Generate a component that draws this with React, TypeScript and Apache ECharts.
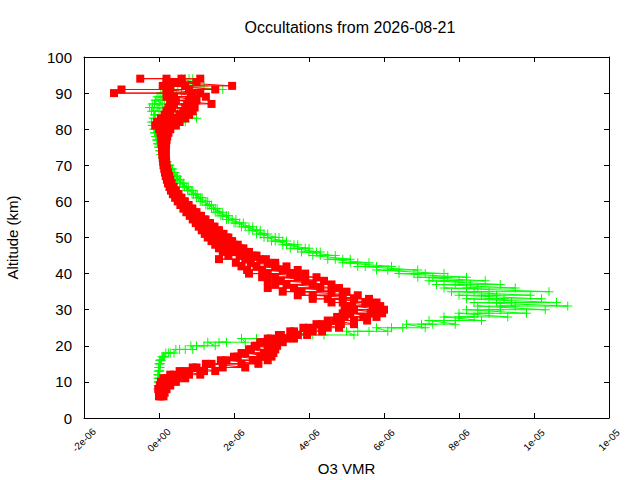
import React, { useEffect, useRef } from "react";
import * as echarts from "echarts";

// Altitude levels (km)
const altitudes = [
  6, 7, 8, 9, 10, 11, 12, 13, 14, 15,
  16, 17, 18, 19, 20, 21, 22, 23, 24, 25,
  26, 27, 28, 29, 30, 31, 32, 33, 34, 35,
  36, 37, 38, 39, 40, 41, 42, 43, 44, 45,
  46, 47, 48, 49, 50, 51, 52, 53, 54, 55,
  56, 57, 58, 59, 60, 61, 62, 63, 64, 65,
  66, 67, 68, 69, 70, 71, 72, 73, 74, 75,
  76, 77, 78, 79, 80, 81, 82, 83, 84, 85,
  86, 87, 88, 89, 90, 91, 92, 93, 94,
];

// Green series (O3 VMR, units of 1e-6), four occultations
const greenP1 = [
  null, null, 0.0, -0.02, 0.0, 0.01, -0.02, 0.0, 0.01, 0.02,
  0.03, 0.08, 0.18, 0.45, 0.85, 1.3, 2.2, 3.8, 5.0, 5.8,
  6.6, 7.2, 7.6, 8.0, 8.2, 8.5, 8.4, 8.2, 8.0, 7.8,
  7.6, 7.4, 7.2, 6.9, 6.4, 5.8, 5.3, 4.9, 4.5, 4.1,
  3.8, 3.5, 3.3, 3.0, 2.8, 2.6, 2.4, 2.2, 2.0, 1.8,
  1.65, 1.5, 1.4, 1.25, 1.1, 1.0, 0.88, 0.76, 0.64, 0.55,
  0.47, 0.4, 0.33, 0.27, 0.2, 0.14, 0.09, 0.05, 0.02, 0.0,
  -0.03, -0.05, -0.08, -0.1, -0.12, -0.14, -0.15, -0.12, -0.1, -0.14,
  -0.18, -0.12, -0.08, 0.0, 0.1, 0.3, 0.5, 0.6, 0.7,
];
const greenP2 = [
  null, null, -0.03, 0.01, -0.02, -0.03, 0.0, 0.02, -0.01, 0.0,
  0.05, 0.12, 0.3, 0.7, 1.2, 1.8, 2.9, 4.4, 5.6, 6.5,
  7.3, 7.9, 8.4, 8.8, 9.1, 9.5, 9.4, 9.2, 9.0, 8.8,
  8.5, 8.3, 8.0, 7.7, 7.1, 6.4, 5.8, 5.3, 4.9, 4.5,
  4.2, 3.9, 3.6, 3.3, 3.1, 2.8, 2.6, 2.4, 2.15, 1.95,
  1.8, 1.6, 1.5, 1.35, 1.25, 1.1, 0.98, 0.86, 0.74, 0.64,
  0.55, 0.47, 0.4, 0.34, 0.27, 0.2, 0.14, 0.09, 0.05, 0.02,
  0.0, -0.02, -0.04, -0.06, -0.08, -0.05, 0.05, 0.2, 0.1, 0.0,
  -0.05, 0.0, 0.05, 0.15, 0.35, 0.6, 0.8, 0.9, 0.8,
];
const greenP3 = [
  null, null, null, 0.0, 0.02, 0.0, 0.01, -0.02, 0.03, 0.04,
  0.02, 0.1, 0.25, 0.55, 1.0, 1.6, 2.6, 4.1, 5.3, 6.2,
  7.0, 7.6, 8.0, 8.5, 8.8, 9.1, 9.0, 8.8, 8.6, 8.4,
  8.2, 7.9, 7.6, 7.3, 6.8, 6.1, 5.5, 5.1, 4.7, 4.3,
  4.0, 3.7, 3.4, 3.1, 2.9, 2.7, 2.5, 2.3, 2.05, 1.85,
  1.7, 1.55, 1.45, 1.3, 1.15, 1.05, 0.92, 0.8, 0.68, 0.58,
  0.5, 0.43, 0.36, 0.3, 0.23, 0.17, 0.11, 0.06, 0.03, -0.01,
  -0.04, -0.06, -0.09, -0.12, -0.14, -0.18, -0.2, -0.15, -0.12, -0.2,
  -0.25, -0.18, -0.1, -0.05, 0.05, 0.2, 0.4, 0.5, 0.6,
];
const greenP4 = [
  null, null, null, null, -0.01, 0.02, -0.03, 0.01, 0.0, 0.01,
  0.06, 0.15, 0.4, 0.9, 1.5, 2.3, 3.6, 5.2, 6.1, 7.1,
  7.9, 8.6, 9.3, 9.8, 10.3, 10.9, 10.6, 10.2, 9.9, 10.4,
  9.5, 9.1, 8.7, 8.2, 7.6, 6.9, 6.2, 5.6, 5.1, 4.7,
  4.3, 4.0, 3.7, 3.4, 3.2, 2.9, 2.7, 2.5, 2.25, 2.05,
  1.85, 1.7, 1.55, 1.4, 1.3, 1.15, 1.02, 0.9, 0.78, 0.66,
  0.57, 0.49, 0.42, 0.36, 0.29, 0.22, 0.16, 0.1, 0.06, 0.03,
  0.01, -0.01, -0.03, -0.05, -0.06, 0.4, 0.7, 1.0, 0.9, 0.5,
  0.2, 0.1, 0.15, 0.3, 0.6, 1.7, 1.2, 0.85, 0.9,
];

// Red series (O3 VMR, units of 1e-6), four occultations
const redP1 = [
  0.05, 0.0, 0.02, 0.05, 0.1, 0.2, 0.4, 0.7, 1.0, 1.4,
  1.8, 2.1, 2.3, 2.45, 2.6, 2.8, 3.0, 3.25, 3.6, 4.0,
  4.35, 4.7, 4.95, 5.1, 5.2, 5.15, 4.9, 4.5, 4.1, 3.8,
  3.6, 3.4, 3.25, 3.1, 2.9, 2.75, 2.6, 2.45, 2.3, 2.15,
  2.0, 1.85, 1.75, 1.65, 1.55, 1.45, 1.35, 1.25, 1.15, 1.05,
  0.95, 0.85, 0.75, 0.66, 0.58, 0.5, 0.43, 0.37, 0.32, 0.28,
  0.24, 0.21, 0.19, 0.17, 0.15, 0.14, 0.13, 0.12, 0.12, 0.11,
  0.11, 0.1, 0.1, 0.08, 0.05, 0.02, 0.05, 0.15, 0.25, 0.3,
  0.35, 0.4, 0.45, 0.4, 0.3, 0.2, 0.3, 0.4, 0.2,
];
const redP2 = [
  0.12, 0.08, 0.1, 0.18, 0.3, 0.5, 0.8, 1.2, 1.7, 2.2,
  2.5, 2.7, 2.8, 2.9, 3.0, 3.15, 3.4, 3.7, 4.1, 4.5,
  4.85, 5.2, 5.45, 5.65, 5.75, 5.7, 5.5, 5.2, 4.9, 4.6,
  4.3, 4.1, 3.9, 3.7, 3.5, 3.3, 3.1, 2.9, 2.7, 2.5,
  2.3, 2.15, 2.0, 1.9, 1.8, 1.68, 1.56, 1.44, 1.32, 1.2,
  1.08, 0.97, 0.86, 0.76, 0.67, 0.58, 0.5, 0.43, 0.37, 0.32,
  0.28, 0.25, 0.22, 0.2, 0.18, 0.17, 0.16, 0.16, 0.16, 0.15,
  0.16, 0.16, 0.17, 0.18, 0.2, 0.25, 0.35, 0.45, 0.55, 0.65,
  0.7, 0.75, 0.8, 0.85, 0.9, 0.8, 0.7, 0.6, 0.6,
];
const redP3 = [
  0.0, 0.03, -0.02, 0.02, 0.05, 0.12, 0.3, 0.55, 0.9, 1.25,
  1.65, 2.0, 2.2, 2.4, 2.55, 2.7, 2.9, 3.2, 3.5, 3.85,
  4.2, 4.5, 4.75, 4.9, 5.0, 4.95, 4.6, 4.1, 3.7, 3.3,
  2.9, 3.1, 2.9, 2.75, 2.4, 2.35, 2.2, 2.05, 1.6, 1.85,
  1.7, 1.6, 1.5, 1.4, 1.3, 1.22, 1.14, 1.06, 0.98, 0.9,
  0.82, 0.73, 0.65, 0.57, 0.5, 0.43, 0.37, 0.32, 0.28, 0.24,
  0.21, 0.18, 0.16, 0.14, 0.12, 0.11, 0.1, 0.09, 0.08, 0.08,
  0.07, 0.07, 0.06, 0.04, 0.0, -0.1, -0.05, 0.05, 0.15, 0.2,
  0.25, 0.3, 0.3, 0.2, -1.2, -1.0, 0.1, 0.2, -0.5,
];
const redP4 = [
  null, 0.15, 0.2, 0.3, 0.45, 0.7, 1.1, 1.5, 2.3, 2.65,
  2.9, 3.0, 3.05, 3.1, 3.15, 3.3, 3.6, 3.95, 4.35, 4.8,
  5.2, 5.55, 5.8, 5.95, 6.0, 5.9, 5.8, 5.6, 5.3, 5.0,
  4.8, 4.6, 4.4, 4.2, 3.9, 3.7, 3.4, 3.1, 2.85, 2.6,
  2.4, 2.25, 2.1, 1.95, 1.85, 1.72, 1.6, 1.48, 1.36, 1.24,
  1.12, 1.0, 0.89, 0.79, 0.69, 0.6, 0.52, 0.45, 0.39, 0.34,
  0.3, 0.27, 0.24, 0.22, 0.2, 0.19, 0.18, 0.18, 0.18, 0.18,
  0.19, 0.2, 0.22, 0.25, 0.3, 0.45, 0.55, 0.7, 0.8, 0.9,
  0.95, 1.4, 1.0, 1.25, 1.1, 1.5, 1.95, 1.0, 1.1,
];

const xTickLabels = ["-2e-06", "0e+00", "2e-06", "4e-06", "6e-06", "8e-06", "1e-05", "1e-05"];
const X_MIN = -2;
const X_MAX = 12;
const X_STEP = 2;

const FONT = "'Liberation Sans', Arial, sans-serif";
const PLUS = "path://M4,0H5V4H9V5H5V9H4V5H0V4H4Z";

function buildPoints(profiles: (number | null)[][]): number[][] {
  const pts: number[][] = [];
  altitudes.forEach((alt, i) => {
    profiles.forEach((p) => {
      const v = p[i];
      if (v !== null && v !== undefined) pts.push([v, alt]);
    });
  });
  return pts;
}

export default function App() {
  const ref = useRef<HTMLDivElement>(null);

  useEffect(() => {
    if (!ref.current) return;
    const chart = echarts.init(ref.current, null, { renderer: "svg" });
    const tickCommon = { show: true, inside: true, length: 5, lineStyle: { color: "#000", width: 1 } };
    const lineCommon = { show: true, onZero: false, lineStyle: { color: "#000", width: 1 } };
    chart.setOption({
      animation: false,
      backgroundColor: "#fff",
      title: {
        text: "Occultations from 2026-08-21",
        left: 345,
        top: 14,
        textAlign: "center",
        textStyle: { fontSize: 16, fontWeight: "normal", color: "#000", fontFamily: FONT },
      },
      grid: {
        left: 84,
        right: 31,
        top: 57,
        bottom: 62,
        containLabel: false,
        outerBoundsMode: "none",
      },
      xAxis: [
        {
          type: "value",
          position: "bottom",
          min: X_MIN,
          max: X_MAX,
          interval: X_STEP,
          name: "O3 VMR",
          nameLocation: "middle",
          nameGap: 39,
          nameTextStyle: { fontSize: 15, color: "#000", fontFamily: FONT },
          axisLine: lineCommon,
          axisTick: tickCommon,
          splitLine: { show: false },
          axisLabel: {
            rotate: 45,
            fontSize: 10,
            color: "#000",
            fontFamily: FONT,
            margin: 22,
            align: "center",
            verticalAlign: "middle",
            formatter: (v: number) => xTickLabels[Math.round((v - X_MIN) / X_STEP)] ?? "",
          },
        },
        {
          type: "value",
          position: "top",
          min: X_MIN,
          max: X_MAX,
          interval: X_STEP,
          axisLine: lineCommon,
          axisTick: tickCommon,
          axisLabel: { show: false },
          splitLine: { show: false },
        },
      ],
      yAxis: [
        {
          type: "value",
          position: "left",
          min: 0,
          max: 100,
          interval: 10,
          name: "Altitude (km)",
          nameLocation: "middle",
          nameGap: 64,
          nameTextStyle: { fontSize: 15, color: "#000", fontFamily: FONT },
          axisLine: lineCommon,
          axisTick: tickCommon,
          splitLine: { show: false },
          axisLabel: { fontSize: 15, color: "#000", fontFamily: FONT, margin: 12 },
        },
        {
          type: "value",
          position: "right",
          min: 0,
          max: 100,
          interval: 10,
          axisLine: lineCommon,
          axisTick: tickCommon,
          axisLabel: { show: false },
          splitLine: { show: false },
        },
      ],
      series: [
        {
          type: "line",
          xAxisIndex: 0,
          yAxisIndex: 0,
          data: buildPoints([greenP1, greenP2, greenP3, greenP4]),
          symbol: PLUS,
          symbolSize: 9,
          itemStyle: { color: "#00ff00" },
          lineStyle: { color: "#00ff00", width: 1 },
          z: 2,
        },
        {
          type: "line",
          xAxisIndex: 0,
          yAxisIndex: 0,
          data: buildPoints([redP1, redP2, redP3, redP4]),
          symbol: "rect",
          symbolSize: 8,
          itemStyle: { color: "#ff0000" },
          lineStyle: { color: "#ff0000", width: 1 },
          z: 3,
        },
      ],
    });
    return () => chart.dispose();
  }, []);

  return (
    <div
      ref={ref}
      style={{ position: "absolute", left: 0, top: 0, width: 640, height: 480, background: "#fff" }}
    />
  );
}
